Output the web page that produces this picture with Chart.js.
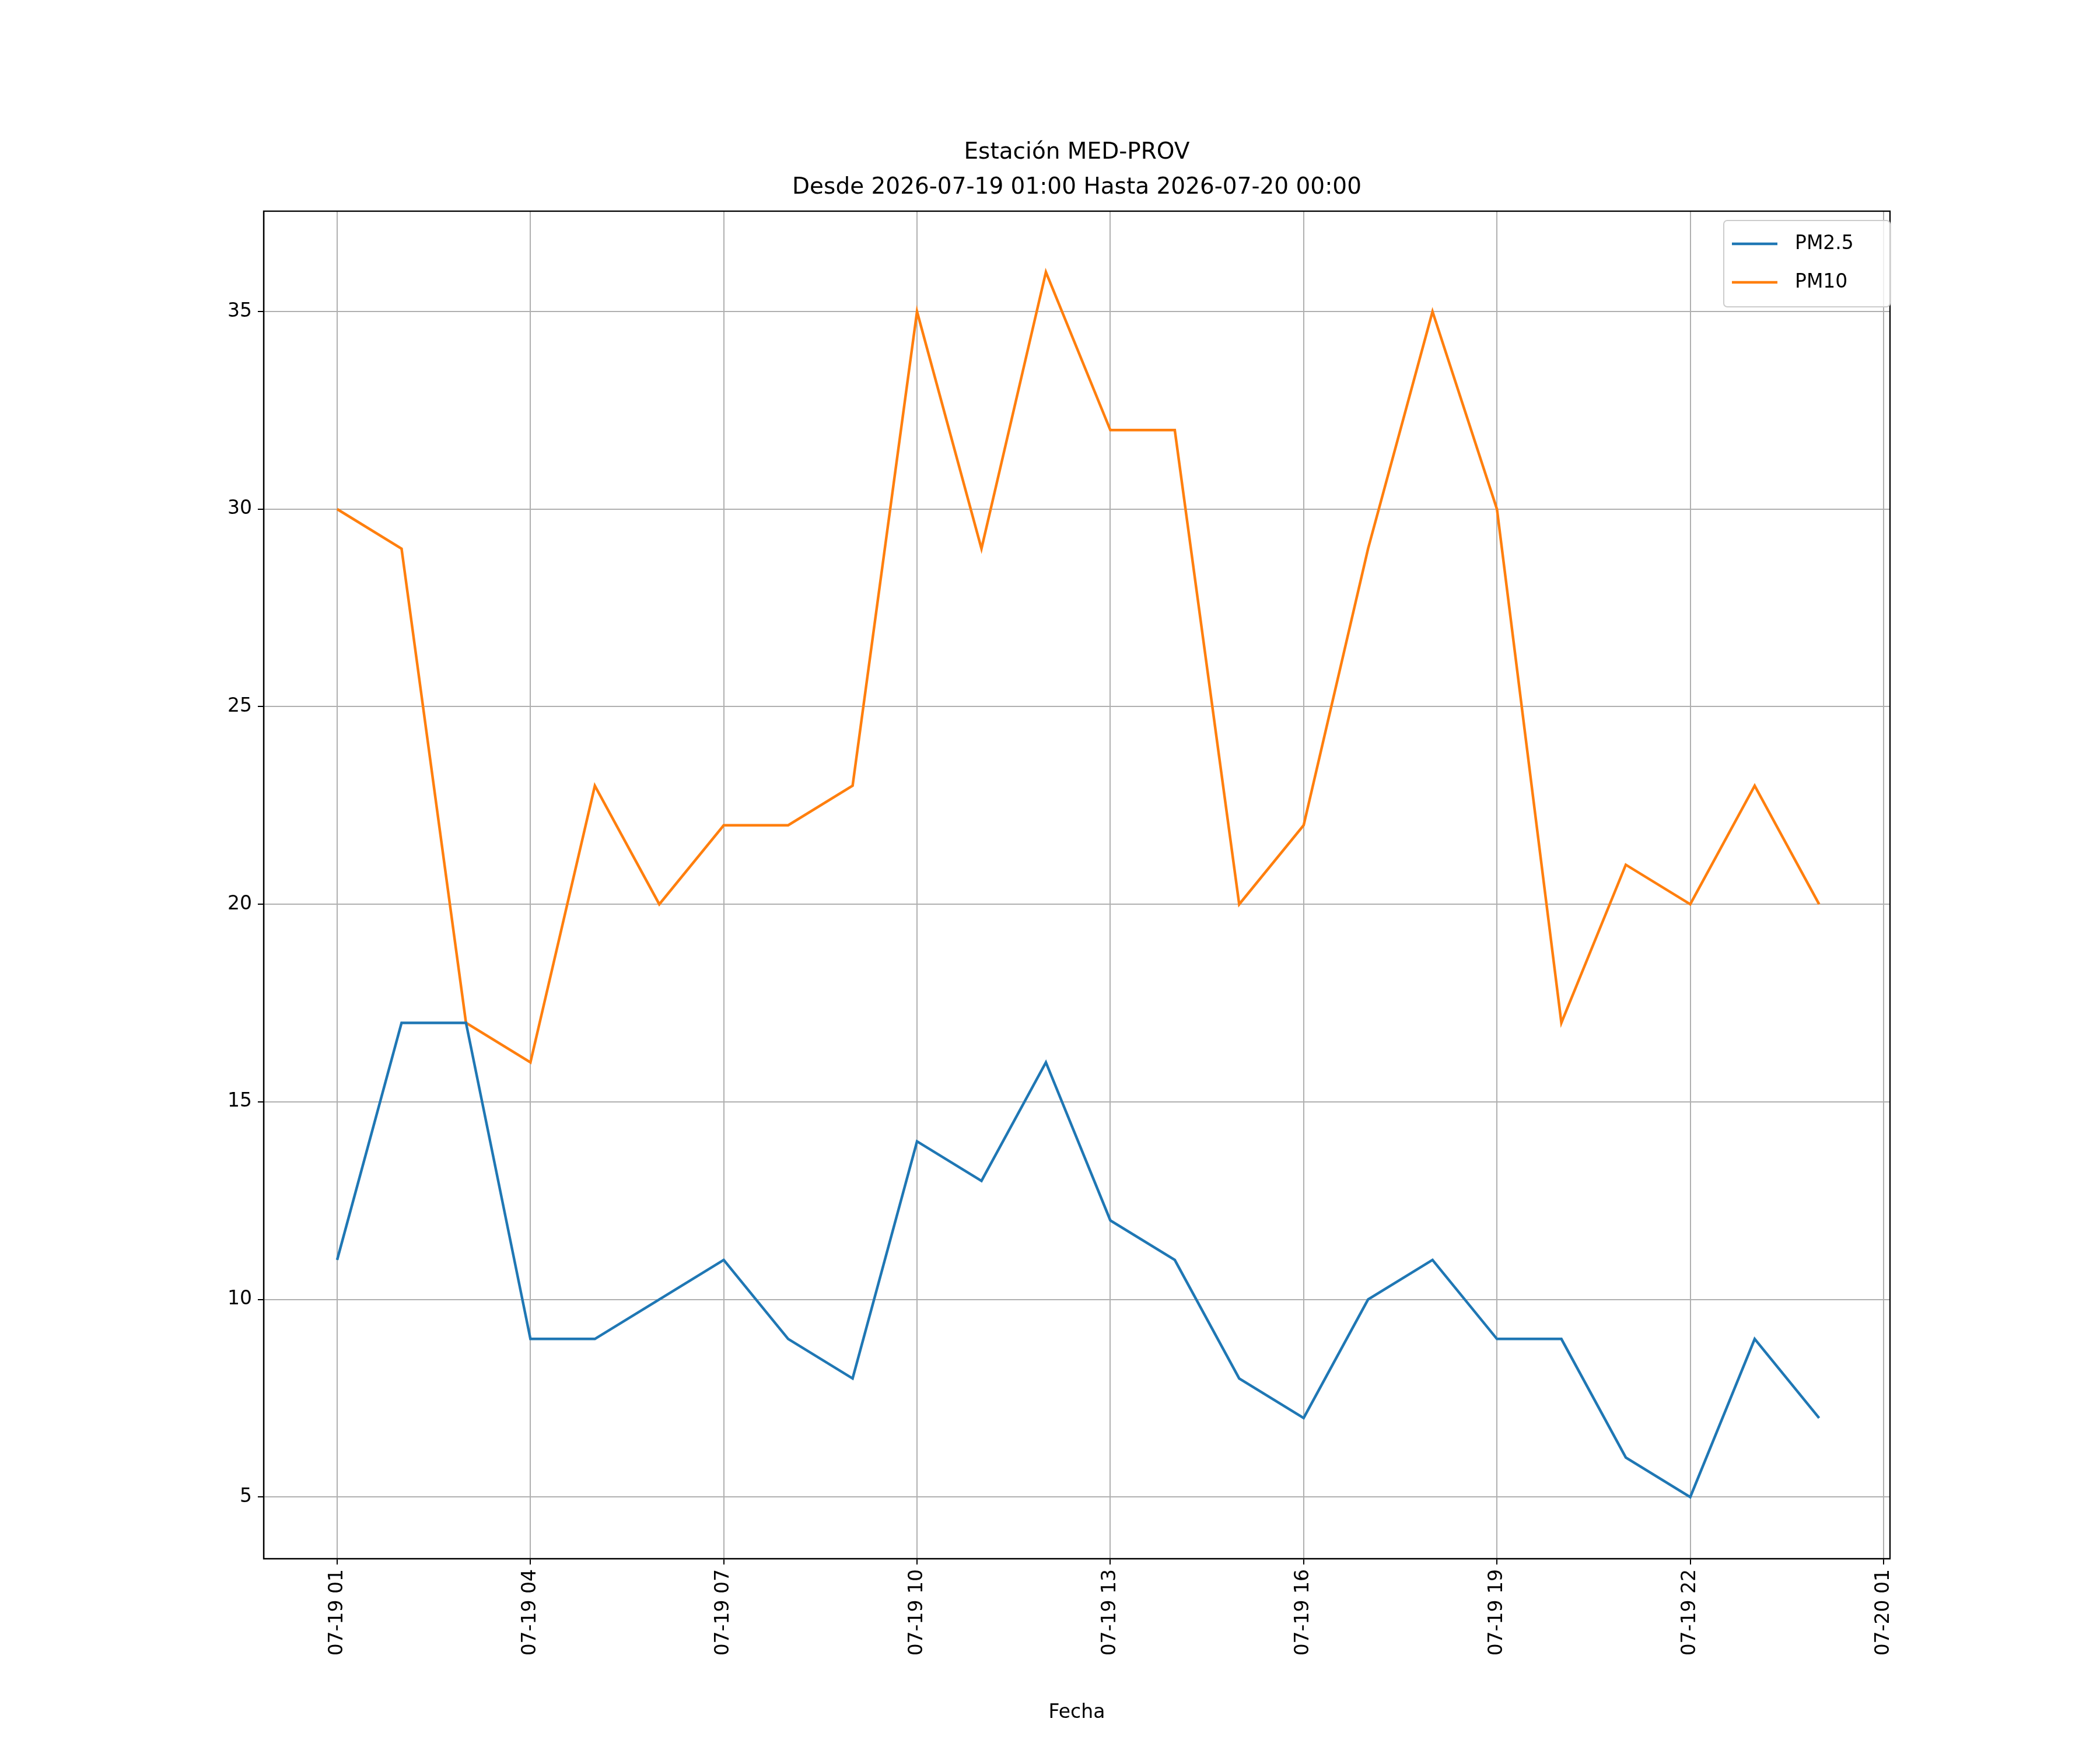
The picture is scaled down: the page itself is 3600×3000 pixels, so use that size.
<!DOCTYPE html>
<html><head><meta charset="utf-8">
<script src="https://cdn.jsdelivr.net/npm/chart.js@4/dist/chart.umd.min.js"></script>
<style>body{margin:0;background:#fff}</style>
</head><body>
<canvas id="c" width="3600" height="3000"></canvas>
<script>
const horas = [0,1,2,3,4,5,6,7,8,9,10,11,12,13,14,15,16,17,18,19,20,21,22,23];
const pm25 = [11,17,17,9,9,10,11,9,8,14,13,16,12,11,8,7,10,11,9,9,6,5,9,7];
const pm10 = [30,29,17,16,23,20,22,22,23,35,29,36,32,32,20,22,29,35,30,17,21,20,23,20];
const tickHoras = [0,3,6,9,12,15,18,21,24];
const tickTextos = ["07-19 01","07-19 04","07-19 07","07-19 10","07-19 13","07-19 16","07-19 19","07-19 22","07-20 01"];
const titulo = ["Estación MED-PROV","Desde 2026-07-19 01:00 Hasta 2026-07-20 00:00"];

const F = "'DejaVu Sans', sans-serif";

const extras = {
  id: "extras",
  afterDraw(chart) {
    const ctx = chart.ctx, a = chart.chartArea;
    ctx.save();
    ctx.strokeStyle = "#000"; ctx.lineWidth = 2.3;
    ctx.strokeRect(a.left, a.top, a.right - a.left, a.bottom - a.top);
    ctx.fillStyle = "#000"; ctx.textAlign = "center"; ctx.textBaseline = "middle";
    ctx.font = "39px " + F;
    ctx.fillText(titulo[0], (a.left + a.right) / 2, 262);
    ctx.fillText(titulo[1], (a.left + a.right) / 2, 322);
    ctx.font = "33px " + F;
    ctx.fillText("Fecha", (a.left + a.right) / 2, 2936);
    // leyenda
    const x = 2955, y = 378, w = 285, h = 148;
    ctx.fillStyle = "rgba(255,255,255,0.8)"; ctx.strokeStyle = "#ccc"; ctx.lineWidth = 2;
    ctx.beginPath(); ctx.roundRect(x, y, w, h, 6); ctx.fill(); ctx.stroke();
    chart.data.datasets.forEach((d, i) => {
      const yy = y + 40 + i * 66;
      ctx.strokeStyle = d.borderColor; ctx.lineWidth = 4.5;
      ctx.beginPath(); ctx.moveTo(x + 14, yy); ctx.lineTo(x + 92, yy); ctx.stroke();
      ctx.fillStyle = "#000"; ctx.textAlign = "left";
      ctx.fillText(d.label, x + 122, yy);
    });
    ctx.restore();
  }
};

new Chart(document.getElementById("c"), {
  type: "line",
  data: {
    datasets: [
      { label: "PM2.5", data: horas.map((h, i) => ({ x: h, y: pm25[i] })), borderColor: "#1f77b4", borderWidth: 4.5, pointRadius: 0, tension: 0 },
      { label: "PM10", data: horas.map((h, i) => ({ x: h, y: pm10[i] })), borderColor: "#ff7f0e", borderWidth: 4.5, pointRadius: 0, tension: 0 }
    ]
  },
  options: {
    responsive: false, devicePixelRatio: 1, animation: false,
    layout: { padding: { top: 362, right: 360, left: 0, bottom: 0 } },
    plugins: { legend: { display: false }, title: { display: false }, tooltip: { enabled: false } },
    scales: {
      x: {
        type: "linear", min: -1.14, max: 24.1,
        afterBuildTicks(s) { s.ticks = tickHoras.map(v => ({ value: v })); },
        afterFit(s) { s.height = 328; },
        ticks: { callback: (v) => tickTextos[tickHoras.indexOf(v)], maxRotation: 90, minRotation: 90, color: "#000", font: { size: 33, family: F }, padding: 8 },
        grid: { color: "#b0b0b0", lineWidth: 2, tickColor: "#000", tickLength: 10 },
        border: { color: "#000", width: 2.3 }
      },
      y: {
        min: 3.44, max: 37.54,
        afterBuildTicks(s) { s.ticks = [5,10,15,20,25,30,35].map(v => ({ value: v })); },
        afterFit(s) { s.width = 452; },
        ticks: { color: "#000", font: { size: 33, family: F }, padding: 10 },
        grid: { color: "#b0b0b0", lineWidth: 2, tickColor: "#000", tickLength: 10 },
        border: { color: "#000", width: 2.3 }
      }
    }
  },
  plugins: [extras]
});
</script>
</body></html>
